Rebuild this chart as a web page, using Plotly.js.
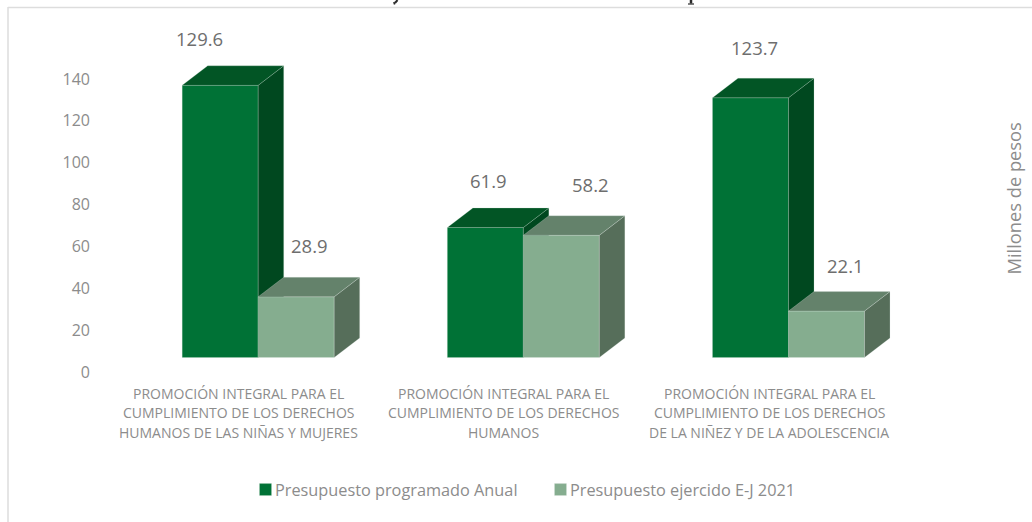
<!DOCTYPE html>
<html>
<head>
<meta charset="utf-8">
<script src="https://cdn.plot.ly/plotly-3.0.1.min.js"></script>
<style>html,body{margin:0;padding:0;background:#fff;overflow:hidden}</style>
</head>
<body>
<div id="chart" style="width:1032px;height:522px"></div>
<script>
// ---- data ----
const categoryLines = [
  ["PROMOCIÓN INTEGRAL PARA EL", "CUMPLIMIENTO DE LOS DERECHOS", "HUMANOS DE LAS NIÑAS Y MUJERES"],
  ["PROMOCIÓN INTEGRAL PARA EL", "CUMPLIMIENTO DE LOS DERECHOS", "HUMANOS"],
  ["PROMOCIÓN INTEGRAL PARA EL", "CUMPLIMIENTO DE LOS DERECHOS", "DE LA NIÑEZ Y DE LA ADOLESCENCIA"]
];
const programado = [129.6, 61.9, 123.7];
const ejercido = [28.9, 58.2, 22.1];
const seriesNames = ["Presupuesto programado Anual", "Presupuesto ejercido E-J 2021"];
const yTicks = [0, 20, 40, 60, 80, 100, 120, 140];
const axisTitle = "Millones de pesos";

// ---- page geometry ----
const W = 1032, H = 522, L = 91, R = 940, T = 20, B = 380;
const unitX = 265.15, x0px = 238.7;           // px per category, px of first category label
const tickPx0 = 372, tickScale = 2.0929;      // value axis as labelled
const basePx = 357.5, barScale = 2.1;         // front plane of the 3D bars
const barW = 76 / unitX, barShift = 19.5 / unitX;
const depthX = 25.5 / unitX, depthY = 19.5 / barScale;
const paperX = px => (px - L) / (R - L);
const paperY = px => 1 - (px - T) / (B - T);

const xs = categoryLines.map((_, i) => i);
const xRange = [(L - x0px) / unitX, (R - x0px) / unitX];

function faces(values, leftOf) {
  const top = {x: [], y: []}, side = {x: [], y: []};
  values.forEach((v, i) => {
    const a = leftOf(i), b = a + barW;
    top.x.push(a, a + depthX, b + depthX, b, a, null);
    top.y.push(v, v + depthY, v + depthY, v, v, null);
    side.x.push(b, b + depthX, b + depthX, b, b, null);
    side.y.push(v, v + depthY, depthY, 0, v, null);
  });
  return {top, side};
}
function series(values, name, leftOf, colors, yaxis) {
  const f = faces(values, leftOf);
  const edge = {color: colors.edge, width: 0.6};
  const poly = (d, c) => ({type: 'scatter', mode: 'lines', x: d.x, y: d.y, fill: 'toself', fillcolor: c,
    line: edge, xaxis: 'x', yaxis, showlegend: false, hoverinfo: 'skip'});
  return [
    {type: 'bar', name, x: xs.map(leftOf), y: values, width: barW, offset: 0, xaxis: 'x', yaxis,
      marker: {color: colors.front, line: edge}, hoverinfo: 'y'},
    poly(f.side, colors.side),
    poly(f.top, colors.top)
  ];
}
const darkLeft = i => xs[i] + barShift - barW;
const lightLeft = i => xs[i] + barShift;
const darkColors = {front: '#007236', top: '#025525', side: '#00481F', edge: 'rgba(190,215,200,0.4)'};
const lightColors = {front: '#85AD8F', top: '#64826B', side: '#566E5A', edge: 'rgba(225,235,228,0.4)'};

const traces = [
  // carries the labelled value axis
  {type: 'scatter', mode: 'markers', x: yTicks.map(() => 0), y: yTicks, xaxis: 'x', yaxis: 'y',
    marker: {opacity: 0, size: 1}, showlegend: false, hoverinfo: 'skip'},
  ...series(programado, seriesNames[0], darkLeft, darkColors, 'y2'),
  ...series(ejercido, seriesNames[1], lightLeft, lightColors, 'y3')
];

const barRange = [(basePx - B) / barScale, (basePx - T) / barScale];

// manual placement of the value labels, as in the picture (px from the top-centre of the front face)
const labelShift = [[[-21, 46.5], [3, 47], [4, 50]], [[13, 51], [29, 51], [19, 46]]];
const annotations = [];
[[programado, darkLeft], [ejercido, lightLeft]].forEach(([vals, left], s) => {
  vals.forEach((v, i) => annotations.push({
    x: left(i) + barW / 2, y: v, xref: 'x', yref: 'y2', text: v.toFixed(1), showarrow: false,
    xshift: labelShift[s][i][0], yshift: labelShift[s][i][1], xanchor: 'center', yanchor: 'middle',
    font: {family: 'Open Sans', size: 18.5, color: '#6E6E6E'}
  }));
});
const linePx = [393, 412.5, 432];
categoryLines.forEach((lines, i) => lines.forEach((t, k) => annotations.push({
  x: xs[i], y: paperY(linePx[k]), xref: 'x', yref: 'paper', text: t, showarrow: false,
  xanchor: 'center', yanchor: 'middle', font: {family: 'Open Sans', size: 14, color: '#8C8C8C'}
})));
annotations.push({x: paperX(1013), y: paperY(198.5), xref: 'paper', yref: 'paper', text: axisTitle,
  textangle: -90, showarrow: false, xanchor: 'center', yanchor: 'middle',
  font: {family: 'Open Sans', size: 18.3, color: '#8C8C8C'}});

// the cropped title above the chart leaves only two specks of ink at the page's top edge
const speck = (x0, y0, x1, y1, w) => ({type: 'line', xref: 'paper', yref: 'paper',
  x0: paperX(x0), x1: paperX(x1), y0: paperY(y0), y1: paperY(y1), line: {color: '#2A2A2A', width: w}});

const layout = {
  width: W, height: H, paper_bgcolor: '#fff', plot_bgcolor: 'rgba(0,0,0,0)',
  margin: {l: L, r: W - R, t: T, b: H - B, pad: 0},
  barmode: 'overlay', showlegend: true,
  font: {family: 'Open Sans', color: '#8C8C8C'},
  xaxis: {range: xRange, showgrid: false, zeroline: false, showline: false, showticklabels: false, ticks: '', fixedrange: true},
  yaxis: {range: [(tickPx0 - B) / tickScale, (tickPx0 - T) / tickScale], tickvals: yTicks, ticks: '',
    showgrid: false, zeroline: false, showline: false, fixedrange: true,
    tickfont: {family: 'Open Sans', size: 16, color: '#8C8C8C'}},
  yaxis2: {range: barRange, overlaying: 'y', visible: false, fixedrange: true},
  yaxis3: {range: barRange, overlaying: 'y', visible: false, fixedrange: true},
  legend: {orientation: 'h', x: paperX(235), y: paperY(490), xanchor: 'left', yanchor: 'middle',
    entrywidth: 250, entrywidthmode: 'pixels', bgcolor: 'rgba(0,0,0,0)', traceorder: 'normal',
    font: {family: 'Open Sans', size: 16.3, color: '#8C8C8C'}},
  shapes: [
    {type: 'line', xref: 'paper', yref: 'paper', x0: paperX(8), x1: paperX(8), y0: paperY(7), y1: paperY(522), line: {color: '#DDDDDD', width: 1.5}},
    {type: 'line', xref: 'paper', yref: 'paper', x0: paperX(8), x1: paperX(1032), y0: paperY(7.5), y1: paperY(7.5), line: {color: '#DDDDDD', width: 1.5}},
    speck(397.5, 0, 395, 3, 2),
    speck(395, 3, 393.5, 3.5, 2.5),
    speck(691, 0, 691, 3.5, 2.5),
    speck(688, 4, 694, 4, 1.2)
  ],
  annotations
};
Plotly.newPlot('chart', traces, layout, {displayModeBar: false, staticPlot: true}).then(() => {
  // legend swatches sit close to their text in the reference
  document.querySelectorAll('.legend .legendsymbols').forEach(g => g.setAttribute('transform', 'translate(10.5,0)'));
});
</script>
</body>
</html>
